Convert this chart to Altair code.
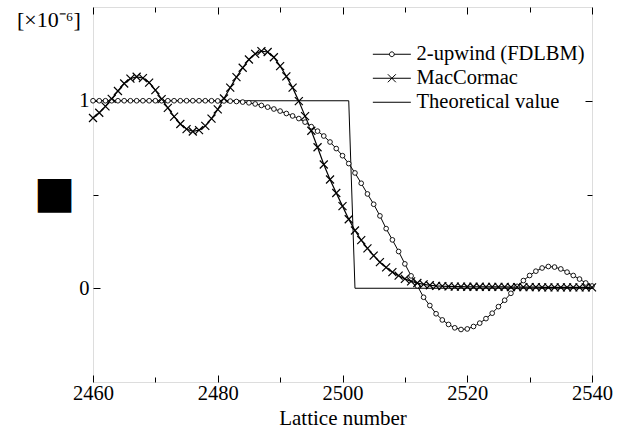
import altair as alt
import pandas as pd

# ---------------- data ----------------
lattice = list(range(2460, 2541))

upwind = [
    1.000, 1.000, 1.000, 1.000, 1.000, 1.000, 1.000, 1.000, 1.000, 1.000,  # 2460-2469
    1.000, 1.000, 1.000, 1.000, 1.000, 1.000, 1.000, 1.000, 1.000, 1.000,  # 2470-2479
    0.999, 0.999, 0.998, 0.996, 0.993, 0.989, 0.983, 0.975, 0.966, 0.956,  # 2480-2489
    0.945, 0.932, 0.919, 0.905, 0.886, 0.862, 0.838, 0.812, 0.780, 0.745,  # 2490-2499
    0.707, 0.665, 0.615, 0.560, 0.503, 0.448, 0.386, 0.318, 0.258, 0.196,  # 2500-2509
    0.130, 0.066, 0.013, -0.048, -0.092, -0.136, -0.169, -0.193, -0.211, -0.220,  # 2510-2519
    -0.217, -0.204, -0.186, -0.162, -0.133, -0.098, -0.064, -0.027, 0.010, 0.041,  # 2520-2529
    0.068, 0.091, 0.108, 0.116, 0.113, 0.103, 0.086, 0.068, 0.049, 0.028,  # 2530-2539
    0.012,  # 2540
]

maccormac = [
    0.908, 0.936, 0.970, 1.010, 1.052, 1.092, 1.118, 1.128, 1.121, 1.097,  # 2460-2469
    1.057, 1.009, 0.962, 0.915, 0.876, 0.849, 0.836, 0.843, 0.866, 0.905,  # 2470-2479
    0.954, 1.012, 1.070, 1.126, 1.176, 1.220, 1.250, 1.265, 1.260, 1.232,  # 2480-2489
    1.185, 1.130, 1.070, 0.998, 0.918, 0.840, 0.752, 0.660, 0.580, 0.508,  # 2490-2499
    0.438, 0.368, 0.308, 0.257, 0.213, 0.174, 0.139, 0.111, 0.086, 0.067,  # 2500-2509
    0.050, 0.037, 0.028, 0.021, 0.016, 0.013, 0.011, 0.010, 0.009, 0.009,  # 2510-2519
    0.008, 0.008, 0.008, 0.007, 0.007, 0.007, 0.007, 0.006, 0.006, 0.006,  # 2520-2529
    0.006, 0.006, 0.005, 0.005, 0.005, 0.005, 0.005, 0.005, 0.005, 0.005,  # 2530-2539
    0.005,  # 2540
]

theory_x = [2460, 2501, 2502, 2540]
theory_y = [1.0, 1.0, 0.0, 0.0]

series_names = ["2-upwind (FDLBM)", "MacCormac", "Theoretical value"]
x_label_values = [2460, 2480, 2500, 2520, 2540]
x_tick_values = [2460, 2470, 2480, 2490, 2500, 2510, 2520, 2530, 2540]
y_label_values = [0, 1]
y_tick_values = [0, 0.5, 1]
x_title = "Lattice number"
y_title = "■"
unit_label = "[×10⁻⁶]"

# ---------------- styling ----------------
W, H = 499, 375
SERIF = "Liberation Serif"
XDOM = [2460, 2540]
YDOM = [-0.5, 1.5]
X_PATH = "M-1,-1L1,1M-1,1L1,-1"
LEG_PATHS = [
    "M-3.8,0H-0.48M0.48,0H3.8M0.48,0A0.48,0.48 0 1 1 -0.48,0A0.48,0.48 0 1 1 0.48,0",
    "M-3.8,0H3.8M-0.8,-0.8L0.8,0.8M-0.8,0.8L0.8,-0.8",
    "M-3.8,0H3.8",
]

df_up = pd.DataFrame({"x": lattice, "y": upwind})
df_mac = pd.DataFrame({"x": lattice, "y": maccormac})
df_th = pd.DataFrame({"x": theory_x, "y": theory_y})
df_leg = pd.DataFrame({"series": series_names})
df_unit = pd.DataFrame({"t": [unit_label]})

xs = alt.Scale(domain=XDOM, nice=False, zero=False)
ys = alt.Scale(domain=YDOM, nice=False, zero=False)

x_tick_size = {"condition": {"test": "datum.value % 20 === 0", "value": 7}, "value": 5}
y_tick_size = {"condition": {"test": "datum.value % 1 === 0", "value": 7}, "value": 5}

# axes with labels (outside, no ticks)
ax_x_lab = alt.Axis(orient="bottom", values=x_label_values, format="d", ticks=False, tickSize=0,
                    domain=False, grid=False, labelFlush=False, labelOverlap=False,
                    labelFont=SERIF, labelFontSize=20.5, labelColor="black",
                    labelPadding=1, title=x_title, titleFont=SERIF, titleFontSize=21,
                    titleFontWeight="normal", titleColor="black", titlePadding=4)
ax_y_lab = alt.Axis(orient="left", values=y_label_values, format="d", ticks=False, tickSize=0,
                    domain=False, grid=False, labelFlush=False,
                    labelFont=SERIF, labelFontSize=20.5, labelColor="black",
                    labelPadding=4, title=y_title, titleFont="DejaVu Sans", titleFontSize=44,
                    titleFontWeight="normal", titleColor="black", titleAngle=0,
                    titleX=-39, titleY=186, titleAlign="center", titleBaseline="middle")
# inward ticks on the bottom / left edges
ax_x_in_bottom = alt.Axis(orient="top", offset=-H, values=x_tick_values, labels=False, domain=False,
                          grid=False, tickSize=x_tick_size, tickColor="black", tickWidth=1, title=None)
ax_y_in_left = alt.Axis(orient="right", offset=-W, values=y_tick_values, labels=False, domain=False,
                        grid=False, tickSize=y_tick_size, tickColor="black", tickWidth=1, title=None)
# inward ticks on the top / right edges
ax_x_in_top = alt.Axis(orient="bottom", offset=-H, values=x_tick_values, labels=False, domain=False,
                       grid=False, tickSize=x_tick_size, tickColor="black", tickWidth=1, title=None)
ax_y_in_right = alt.Axis(orient="left", offset=-W, values=y_tick_values, labels=False, domain=False,
                         grid=False, tickSize=y_tick_size, tickColor="black", tickWidth=1, title=None)

line_up = alt.Chart(df_up).mark_line(color="black", strokeWidth=1).encode(
    x=alt.X("x:Q", scale=xs, axis=ax_x_lab),
    y=alt.Y("y:Q", scale=ys, axis=ax_y_lab),
)
pts_up = alt.Chart(df_up).mark_point(shape="circle", size=22, filled=True, fill="white",
                                     stroke="black", strokeWidth=0.9, opacity=1).encode(
    x=alt.X("x:Q", scale=xs, axis=None),
    y=alt.Y("y:Q", scale=ys, axis=None),
)
line_mac = alt.Chart(df_mac).mark_line(color="black", strokeWidth=1.2).encode(
    x=alt.X("x:Q", scale=xs, axis=ax_x_in_bottom),
    y=alt.Y("y:Q", scale=ys, axis=ax_y_in_left),
)
pts_mac = alt.Chart(df_mac).mark_point(shape=X_PATH, size=64, stroke="black",
                                       strokeWidth=1.2, opacity=1).encode(
    x=alt.X("x:Q", scale=xs, axis=None),
    y=alt.Y("y:Q", scale=ys, axis=None),
)
line_th = alt.Chart(df_th).mark_line(color="black", strokeWidth=1).encode(
    x=alt.X("x:Q", scale=xs, axis=ax_x_in_top),
    y=alt.Y("y:Q", scale=ys, axis=ax_y_in_right),
)
legend_layer = alt.Chart(df_leg).mark_point(color="black", opacity=0).encode(
    shape=alt.Shape("series:N",
                    scale=alt.Scale(domain=series_names, range=LEG_PATHS),
                    legend=alt.Legend(orient="none", legendX=288.6, legendY=37, title=None,
                                      padding=0, symbolSize=100, symbolStrokeWidth=1,
                                      symbolStrokeColor="black", symbolFillColor="white",
                                      symbolOpacity=1, symbolOffset=0, labelOffset=14.5,
                                      labelFont=SERIF, labelFontSize=20.5, labelColor="black",
                                      labelLimit=400, rowPadding=3)),
)
unit_text = alt.Chart(df_unit).mark_text(font=SERIF, fontSize=22, color="black", align="left",
                                         baseline="middle").encode(
    text="t:N", x=alt.value(-76), y=alt.value(13),
)

chart = (
    alt.layer(line_th, line_up, line_mac, pts_up, pts_mac, legend_layer, unit_text)
    .resolve_axis(x="independent", y="independent")
    .properties(width=W, height=H, padding={"left": 93, "top": 7, "right": 34, "bottom": 50},
                autosize=alt.AutoSizeParams(type="none"))
    .configure_view(stroke="black", strokeWidth=1.4)
    .configure(background="white")
)

chart.save("out.html", embed_options={"renderer": "svg", "actions": False})
